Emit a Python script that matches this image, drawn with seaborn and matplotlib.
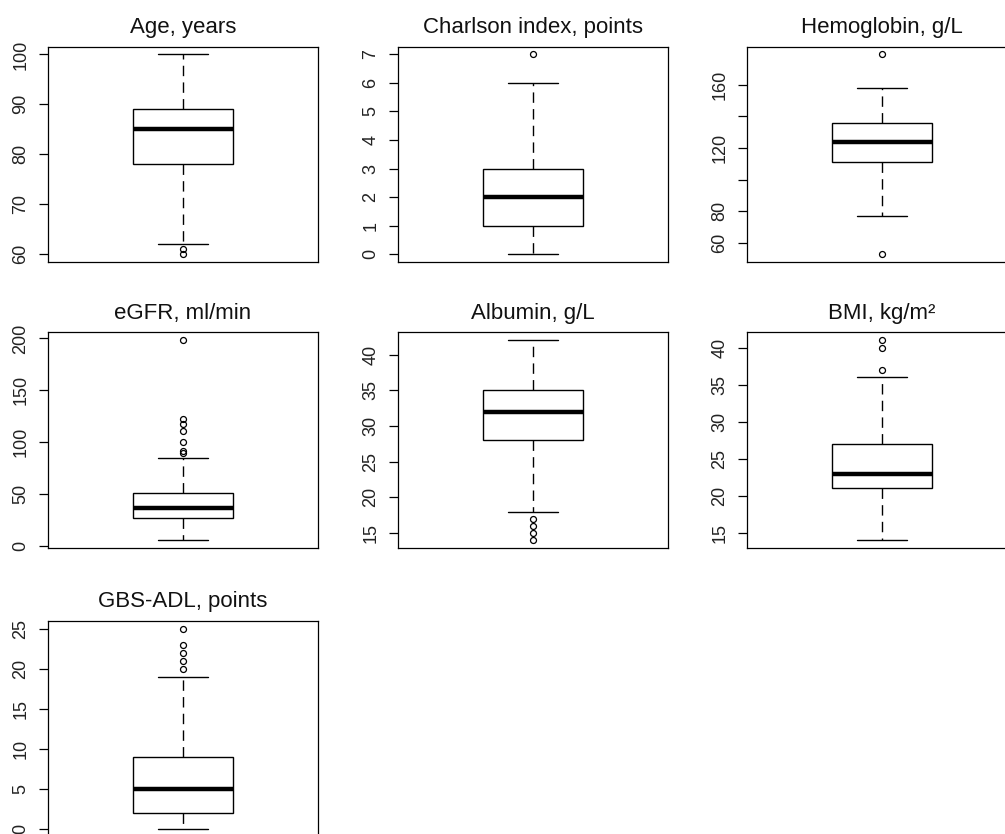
import matplotlib
matplotlib.use("Agg")
import matplotlib.pyplot as plt
import seaborn as sns
import numpy as np

# ---- data ----
titles = ["Age, years", "Charlson index, points", "Hemoglobin, g/L",
          "eGFR, ml/min", "Albumin, g/L", "BMI, kg/m\u00b2",
          "GBS-ADL, points"]

age = [60, 61, 62, 78, 80, 83, 85, 86, 88, 89, 93, 96, 100]
charlson = [0, 0, 1, 1, 1, 2, 2, 2, 3, 3, 4, 6, 7]
hemoglobin = [53, 77, 98, 111, 116, 120, 124, 127, 131, 136, 142, 158, 179]
egfr = [6, 10, 14, 17, 19, 22, 24, 25, 27,
        29, 30, 32, 33, 34, 35, 36, 37,
        38, 40, 42, 44, 46, 48, 50, 51,
        85, 90, 92, 100, 111, 118, 122, 198]
albumin = [14, 15, 16, 17, 18, 23, 28,
           29, 30, 30, 31, 31, 32,
           33, 33, 34, 34, 35, 35,
           36, 37, 38, 39, 40, 42]
bmi = [14, 16, 18, 19, 20, 20, 21,
       21, 22, 22, 22, 23, 23,
       24, 24, 25, 26, 26, 27,
       29, 32, 36, 37, 40, 41]
gbs_adl = [0, 0, 0, 1, 1, 1, 2, 2,
           3, 3, 4, 4, 4, 5, 5,
           6, 6, 7, 7, 8, 8, 9,
           12, 19, 20, 21, 22, 23, 25]

series = [age, charlson, hemoglobin, egfr, albumin, bmi, gbs_adl]

tick_values = [
    [60, 70, 80, 90, 100],
    [0, 1, 2, 3, 4, 5, 6, 7],
    [60, 80, 100, 120, 140, 160],
    [0, 50, 100, 150, 200],
    [15, 20, 25, 30, 35, 40],
    [15, 20, 25, 30, 35, 40],
    [0, 5, 10, 15, 20, 25],
]
tick_labels = [
    ["60", "70", "80", "90", "100"],
    ["0", "1", "2", "3", "4", "5", "6", "7"],
    ["60", "80", "", "120", "", "160"],
    ["0", "50", "100", "150", "200"],
    ["15", "20", "25", "30", "35", "40"],
    ["15", "20", "25", "30", "35", "40"],
    ["0", "5", "10", "15", "20", "25"],
]

# ---- style ----
sns.set_style("white")
plt.rcParams["font.family"] = ["Liberation Sans", "DejaVu Sans"]

W, H = 1005, 834
fig = plt.figure(figsize=(W / 100, H / 100), dpi=100)

col_left = [48, 398, 747]
row_top = [46.5, 332.5, 621]
aw, ah = 270, 215.5

for i, (vals, title, tv, tl) in enumerate(zip(series, titles, tick_values, tick_labels)):
    r, c = divmod(i, 3)
    left = col_left[c] / W
    bottom = 1 - (row_top[r] + ah) / H
    ax = fig.add_axes([left, bottom, aw / W, ah / H])
    sns.boxplot(
        y=vals, ax=ax, width=0.37, color="white", linecolor="black",
        linewidth=1.0, whis=1.5,
        boxprops=dict(facecolor="white", edgecolor="black", linewidth=1.0),
        whiskerprops=dict(color="black", linewidth=1.0, linestyle=(0, (7.5, 4.5))),
        capprops=dict(color="black", linewidth=1.0),
        medianprops=dict(color="black", linewidth=3.2),
        flierprops=dict(marker="o", markersize=4.3, markerfacecolor="none",
                        markeredgecolor="black", markeredgewidth=0.9),
    )
    lo, hi = min(vals), max(vals)
    pad = 0.04 * (hi - lo)
    ax.set_ylim(lo - pad, hi + pad)
    ax.set_xlim(-0.5, 0.5)
    ax.set_xticks([])
    ax.set_xlabel("")
    ax.set_ylabel("")
    ax.set_yticks(tv)
    ax.set_yticklabels(tl)
    ax.tick_params(axis="y", direction="out", length=6.8, width=0.9,
                   color="black", pad=6.5, labelsize=13, labelcolor="#222222",
                   left=True)
    for lbl in ax.get_yticklabels():
        lbl.set_rotation(90)
        lbl.set_va("center")
        lbl.set_ha("right")
    for sp in ax.spines.values():
        sp.set_visible(True)
        sp.set_color("black")
        sp.set_linewidth(0.9)
    ax.set_title(title, fontsize=16, pad=10, color="#111111")
    ax.set_facecolor("white")

fig.savefig("out.png", dpi=100, facecolor="white")
